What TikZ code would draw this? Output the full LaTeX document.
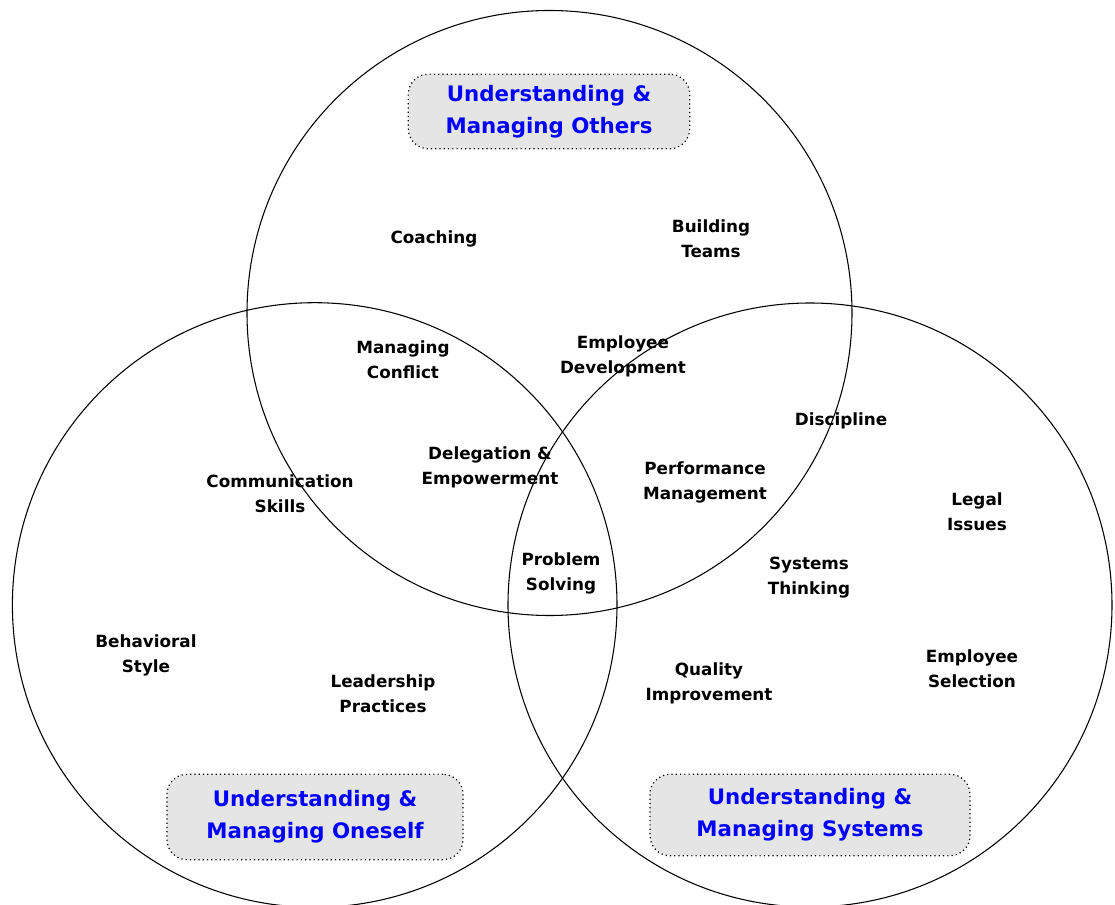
\documentclass[tikz,border=0pt]{standalone}
\usepackage{fontspec}
\setmainfont{DejaVu Sans}
\usepackage{tikz}

\begin{document}
\begin{tikzpicture}
            [x=0.75pt,y=-0.75pt,
             topic/.style={align=center,font=\bfseries\fontsize{12.6}{18.75}\selectfont},
             area/.style={draw,line width=0.9pt,dash pattern=on 0.9pt off 2.3pt,rounded corners=15pt,fill=black!10,
                          text=blue,align=center,font=\bfseries\fontsize{16}{24}\selectfont}]
            \useasboundingbox (0,0) rectangle (1115,905);
            % the three circles
            \draw[line width=0.8pt] (549.5,313) circle (302.5);
            \draw[line width=0.8pt] (314.7,605) circle (302.3);
            \draw[line width=0.8pt] (810,605) circle (302);
            % area labels
            \node[area,minimum width=211pt,minimum height=56pt] (others) at (549,111.5) {Understanding \&\\Managing Others};
            \node[area,minimum width=222pt,minimum height=64pt] (oneself) at (315,817) {Understanding \&\\Managing Oneself};
            \node[area,minimum width=240pt,minimum height=61pt] (systems) at (810,815) {Understanding \&\\Managing Systems};
            % topics
            \node[topic] (coach) at (434,239) {Coaching};
            \node[topic] (teams) at (711,239) {Building\\Teams};
            \node[topic] (conflict) at (403,360) {Managing\\Conflict};
            \node[topic] (empdev) at (623,356) {Employee\\Development};
            \node[topic] (discip) at (841,421) {Discipline};
            \node[topic] (deleg) at (490,467) {Delegation \&\\Empowerment};
            \node[topic] (comm) at (280,494) {Communication\\Skills};
            \node[topic] (perf) at (705,482) {Performance\\Management};
            \node[topic] (legal) at (977,512) {Legal\\Issues};
            \node[topic] (problem) at (561,573) {Problem\\Solving};
            \node[topic] (systhink) at (809,578) {Systems\\Thinking};
            \node[topic] (behav) at (146,655) {Behavioral\\Style};
            \node[topic] (leader) at (383,694) {Leadership\\Practices};
            \node[topic] (quality) at (709,683) {Quality\\Improvement};
            \node[topic] (select) at (972,669) {Employee\\Selection};
        \end{tikzpicture}
\end{document}
